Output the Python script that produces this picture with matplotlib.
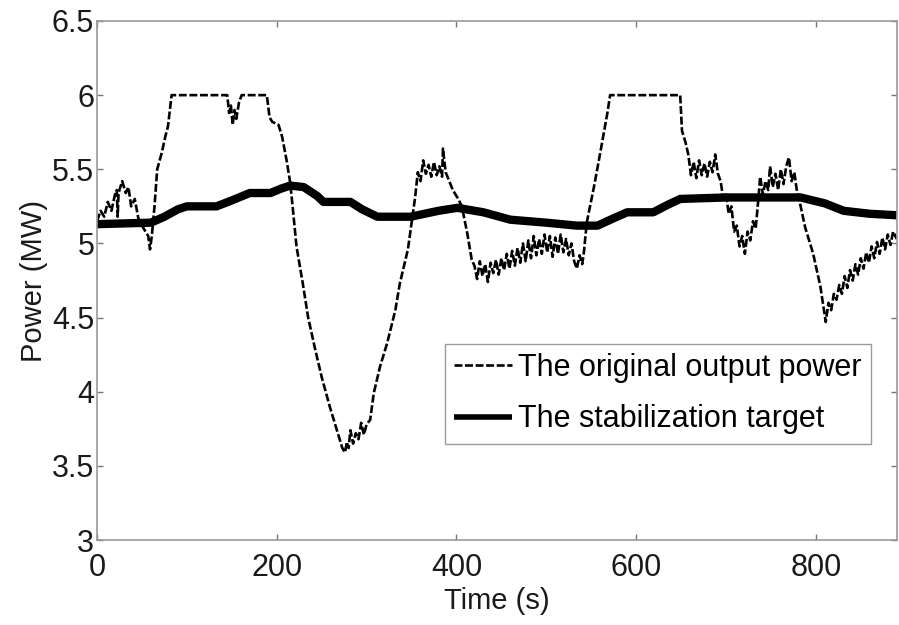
import matplotlib
matplotlib.use("Agg")
import matplotlib.pyplot as plt

# ---------------- data ----------------
time_orig = [0, 4, 8, 12, 16, 20, 22, 23, 24, 28, 32, 35, 38, 42, 46, 50, 54, 57, 59, 61,
             64, 67, 72, 76, 79, 83,
             140, 145, 147, 149, 151, 153, 155, 158, 161, 189, 192, 195, 202, 206,
             211, 215, 218, 222, 229, 235, 243, 250, 259, 267, 270, 273, 276, 278,
             280, 282, 285, 288, 291, 294, 297, 300, 304, 308, 315, 323, 332, 337,
             346, 351, 354, 357, 360, 363, 366, 369, 372, 375, 378, 381, 384, 385,
             388, 392, 396, 402, 406, 412, 417,
             420, 423, 426, 429, 432, 435, 438, 441, 444, 447, 450, 453, 456, 459,
             462, 465, 468, 471, 474, 477, 480, 483, 486, 489, 492, 495, 498, 501,
             504, 507, 510, 513, 516, 519, 522, 525, 528, 531, 534, 537, 540, 542,
             545, 553, 560, 568, 571,
             649, 651, 655, 658, 661, 664, 667, 670, 673, 676, 679, 682, 685, 688,
             691, 694, 697, 700, 703, 706, 709, 712, 715, 718, 721, 724, 727, 730,
             733, 736, 738, 741, 744, 747, 749, 752, 755, 758, 761, 764, 767, 770,
             773, 776, 779, 782, 788, 797, 805, 811, 814, 817, 820, 823, 826, 829,
             832, 835, 838, 841, 844, 847, 850, 853, 856, 859, 862, 865, 868, 871,
             874, 877, 880, 883, 886, 890]
power_orig = [5.15, 5.22, 5.18, 5.28, 5.22, 5.33, 5.36, 5.18, 5.34, 5.42, 5.34, 5.38, 5.25,
              5.30, 5.17, 5.12, 5.08, 5.05, 4.96, 5.05,
              5.25, 5.50, 5.61, 5.72, 5.79, 6.00,
              6.00, 6.00, 5.88, 5.93, 5.80, 5.90, 5.84, 5.95, 6.00, 6.00, 5.85, 5.82,
              5.80, 5.72,
              5.56, 5.41, 5.23, 4.98, 4.73, 4.50, 4.28, 4.10, 3.90, 3.74, 3.68, 3.62,
              3.59, 3.66,
              3.62, 3.74, 3.65, 3.72, 3.68, 3.79, 3.71, 3.78, 3.81, 3.99, 4.17, 4.33,
              4.55, 4.73,
              4.96, 5.18, 5.31, 5.48, 5.42, 5.56, 5.47, 5.53, 5.45, 5.55, 5.46, 5.52,
              5.45, 5.64,
              5.48, 5.42, 5.36, 5.30, 5.25, 5.07, 4.89,
              4.85, 4.76, 4.88, 4.78, 4.86, 4.74, 4.87, 4.80, 4.89, 4.79, 4.90, 4.82,
              4.93, 4.83,
              4.95, 4.85, 4.97, 4.87, 5.00, 4.88, 5.02, 4.90, 5.05, 4.92, 5.03, 4.93,
              5.06, 4.94,
              5.05, 4.91, 5.04, 4.93, 5.06, 4.94, 5.03, 4.92, 5.00, 4.88, 4.83, 4.92,
              4.86, 4.95,
              5.14, 5.38, 5.61, 5.88, 6.00,
              6.00, 5.76, 5.68, 5.60, 5.46, 5.55, 5.44, 5.56, 5.46, 5.54, 5.45, 5.55,
              5.48, 5.60,
              5.47, 5.42, 5.30, 5.33, 5.20, 5.25, 5.08, 5.12, 4.98, 5.05, 4.93, 5.08,
              5.02, 5.15,
              5.10, 5.30, 5.45, 5.33, 5.42, 5.36, 5.52, 5.38, 5.47, 5.36, 5.50, 5.40,
              5.52, 5.58,
              5.42, 5.48, 5.35, 5.28, 5.11, 4.93, 4.71, 4.47, 4.60, 4.55, 4.66, 4.62,
              4.72, 4.66,
              4.78, 4.70, 4.82, 4.75, 4.86, 4.79, 4.90, 4.83, 4.94, 4.87, 4.98, 4.90,
              5.01, 4.93,
              5.04, 4.96, 5.06, 4.99, 5.08, 5.03]

time_target = [0, 60, 75, 90, 100, 133, 150, 170, 193, 205, 215, 230, 245, 252, 282,
               295, 312, 349, 380, 401, 430, 460, 500, 534, 557, 575, 590, 619, 635,
               649, 700, 783, 810, 831, 860, 890]
power_target = [5.13, 5.14, 5.18, 5.23, 5.25, 5.25, 5.29, 5.34, 5.34, 5.37, 5.39, 5.38,
                5.32, 5.28, 5.28, 5.23, 5.18, 5.18, 5.22, 5.24, 5.21, 5.16, 5.14, 5.12,
                5.12, 5.17, 5.21, 5.21, 5.26, 5.30, 5.31, 5.31, 5.27, 5.22, 5.20, 5.19]

x_ticks = [0, 200, 400, 600, 800]
x_tick_labels = ["0", "200", "400", "600", "800"]
y_ticks = [3, 3.5, 4, 4.5, 5, 5.5, 6, 6.5]
y_tick_labels = ["3", "3.5", "4", "4.5", "5", "5.5", "6", "6.5"]

label_orig = "The original output power"
label_target = "The stabilization target"
x_label = "Time (s)"
y_label = "Power (MW)"

# ---------------- figure ----------------
plt.rcParams["font.family"] = ["Liberation Sans", "DejaVu Sans"]

fig = plt.figure(figsize=(8.99, 6.25), dpi=100)
ax = fig.add_axes([0.1079, 0.136, 0.8896, 0.8304])

ax.plot(time_orig, power_orig, color="black", lw=1.9,
        linestyle=(0, (3.0, 1.0)), label=label_orig)
ax.plot(time_target, power_target, color="black", lw=6,
        solid_capstyle="butt", solid_joinstyle="round", label=label_target)

ax.set_xlim(0, 890)
ax.set_ylim(3, 6.5)
ax.set_xticks(x_ticks)
ax.set_xticklabels(x_tick_labels)
ax.set_yticks(y_ticks)
ax.set_yticklabels(y_tick_labels)

for s in ax.spines.values():
    s.set_color("#9a9a9a")
    s.set_linewidth(1.2)
ax.tick_params(direction="in", length=4, width=1, color="#777777",
               top=True, right=True, labelsize=22, labelcolor="#1a1a1a")
ax.tick_params(axis="x", pad=9)
ax.tick_params(axis="y", pad=2)

ax.set_xlabel(x_label, fontsize=21, color="#1a1a1a", labelpad=3)
ax.set_ylabel(y_label, fontsize=21, color="#1a1a1a", labelpad=3)

leg = ax.legend(loc="upper left", bbox_to_anchor=(0.435, 0.378),
                fontsize=22, frameon=True, fancybox=False, framealpha=1,
                edgecolor="#9a9a9a", borderpad=0.3, labelspacing=0.7,
                handlelength=1.9, handletextpad=0.2, borderaxespad=0)
leg.get_frame().set_linewidth(1.0)
leg.get_lines()[1].set_linewidth(4)

fig.savefig("out.png", dpi=100, facecolor="white")
